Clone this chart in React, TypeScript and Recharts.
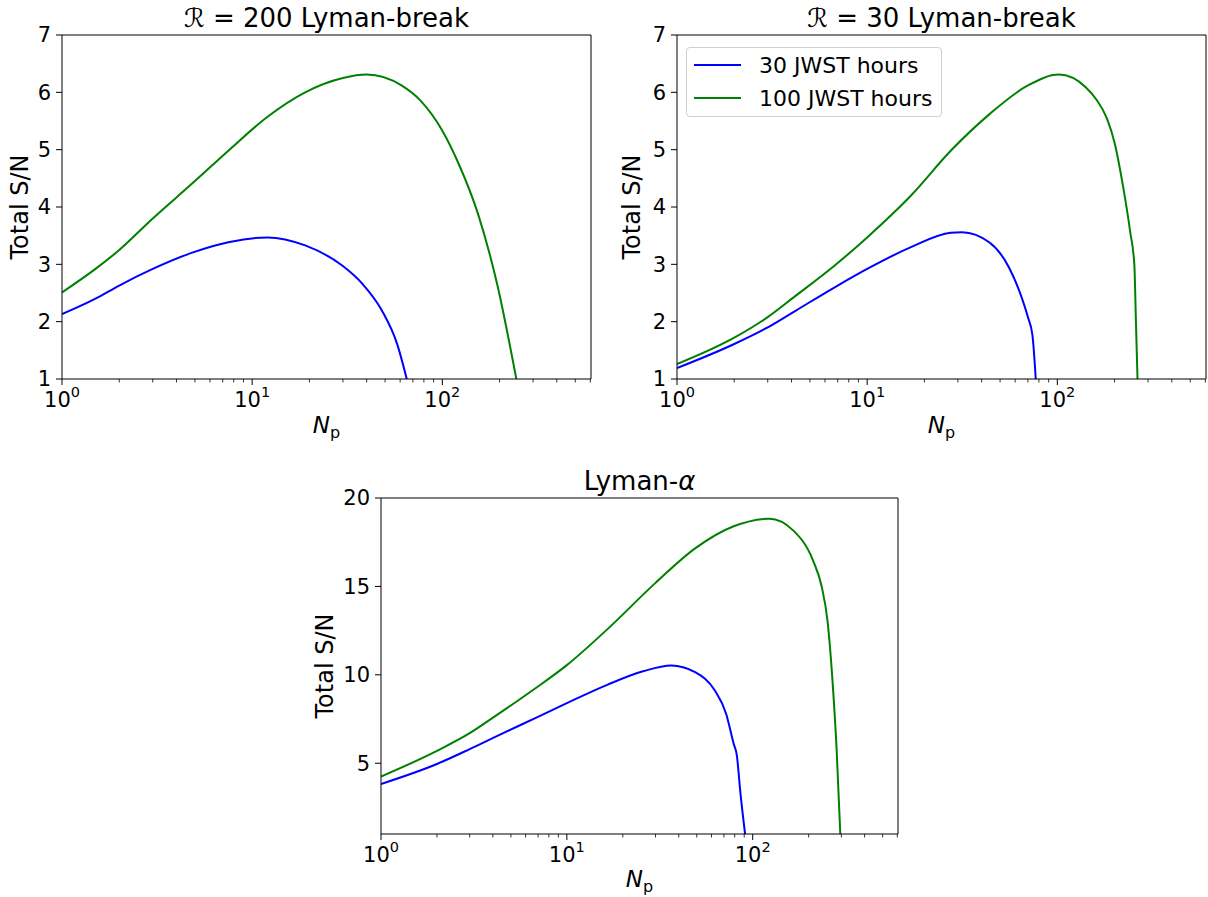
import type { ReactElement } from 'react';
import { Line, LineChart, XAxis, YAxis } from 'recharts';

const FONT = '"DejaVu Sans", Verdana, sans-serif';
const BLUE = '#0000ff';
const GREEN = '#008000';

const X_MAX = 605;
const X_TICKS = [1, 2, 3, 4, 5, 6, 7, 8, 9, 10, 20, 30, 40, 50, 60, 70, 80, 90, 100, 200, 300, 400, 500, 600];
const BREAK_Y_TICKS = [1, 2, 3, 4, 5, 6, 7];
const ALPHA_Y_TICKS = [5, 10, 15, 20];

const SERIES_NAMES = ['30 JWST hours', '100 JWST hours'];

// [N_p, total S/N]
const r200Hours30: [number, number][] = [
  [1, 2.13], [1.5, 2.4], [2, 2.63], [3, 2.92], [4.8, 3.2], [7.6, 3.39], [12, 3.47],
  [19, 3.33], [30, 2.97], [38, 2.66], [48, 2.2], [58, 1.6], [65, 1.0],
];
const r200Hours100: [number, number][] = [
  [1, 2.51], [1.5, 2.92], [2, 3.25], [3, 3.8], [4.8, 4.4], [7.6, 5.0], [12, 5.57],
  [19, 6.0], [30, 6.25], [40, 6.31], [61, 6.12], [77, 5.85], [100, 5.33], [122, 4.75],
  [154, 3.88], [194, 2.66], [245, 1.0],
];
const r30Hours30: [number, number][] = [
  [1, 1.19], [2, 1.61], [3, 1.9], [4.2, 2.19], [6.75, 2.6], [10, 2.92], [17, 3.3],
  [27.5, 3.55], [31.6, 3.56], [44, 3.38], [55.6, 2.95], [64, 2.48], [70, 2.08],
  [74, 1.76], [77, 1.0],
];
const r30Hours100: [number, number][] = [
  [1, 1.26], [2, 1.72], [3, 2.08], [4.2, 2.45], [6.75, 2.98], [10, 3.47], [17, 4.2],
  [27.5, 4.98], [44, 5.62], [70, 6.12], [102, 6.31], [141, 6.09], [160, 5.88], [182, 5.55],
  [200, 5.12], [220, 4.42], [242, 3.55], [254, 3.0], [259, 2.0], [264, 1.0],
];
const alphaHours30: [number, number][] = [
  [1, 3.83], [2, 4.96], [3, 5.8], [4.23, 6.55], [6.9, 7.6], [10, 8.4], [16.6, 9.45],
  [25.7, 10.2], [36.4, 10.53], [49, 10.15], [62.6, 9.11], [72, 7.79], [79, 6.1],
  [82, 5.5], [86, 3.26], [91, 1.0],
];
const alphaHours100: [number, number][] = [
  [1, 4.25], [2, 5.7], [3, 6.7], [4.23, 7.75], [6.9, 9.3], [10, 10.55], [16.6, 12.6],
  [30, 15.2], [49, 17.15], [79, 18.4], [123, 18.83], [165, 18.17], [211, 16.47],
  [235, 15.0], [253, 13.0], [269, 9.6], [283, 5.72], [296, 1.0],
];

const toPoints = (pairs: [number, number][]) => pairs.map(([n, sn]) => ({ n, sn }));

// bottom axis tick: draws the tick mark itself (long at decades, short between) and a 10^n label
function LogTick(props: any): ReactElement {
  const { x, y, payload } = props;
  const exp = Math.log10(payload.value);
  const major = Math.abs(exp - Math.round(exp)) < 1e-9;
  return (
    <g>
      <line x1={x} x2={x} y1={y} y2={y + (major ? 6 : 3.5)} stroke="#000" strokeWidth={major ? 1 : 0.8} />
      {major && (
        <text x={x} y={y + 28} textAnchor="middle" fontSize={21} fontFamily={FONT} fill="#000">
          10
          <tspan dy={-10} fontSize={14.5}>
            {Math.round(exp)}
          </tspan>
        </text>
      )}
    </g>
  );
}

function LegendBox({ left, top }: { left: number; top: number }): ReactElement {
  return (
    <div
      style={{
        position: 'absolute',
        left,
        top,
        width: 256,
        height: 70,
        border: '1px solid #d0d0d0',
        borderRadius: 4,
        background: 'rgba(255,255,255,0.8)',
        fontFamily: FONT,
        fontSize: 22,
        color: '#000',
        boxSizing: 'border-box',
      }}
    >
      {SERIES_NAMES.map((name, i) => (
        <div
          key={name}
          style={{ position: 'absolute', left: 7, top: 4 + i * 33, height: 26, display: 'flex', alignItems: 'center' }}
        >
          <span style={{ display: 'inline-block', width: 47, height: 2, background: i === 0 ? BLUE : GREEN }} />
          <span style={{ marginLeft: 18, whiteSpace: 'nowrap' }}>{name}</span>
        </div>
      ))}
    </div>
  );
}

interface PanelProps {
  left: number;
  top: number;
  width: number;
  height: number;
  margin: { top: number; right: number; bottom: number; left: number };
  low: [number, number][];
  high: [number, number][];
  yDomain: [number, number];
  yTicks: number[];
}

// each axis takes 1px, so margins are the plot edges minus 1
function Panel({ left, top, width, height, margin, low, high, yDomain, yTicks }: PanelProps): ReactElement {
  const axisCommon = {
    dataKey: 'n',
    type: 'number' as const,
    scale: 'log' as const,
    domain: [1, X_MAX],
    allowDataOverflow: true,
    height: 1,
  };
  const yCommon = {
    type: 'number' as const,
    domain: yDomain,
    allowDataOverflow: true,
    width: 1,
  };
  return (
    <div style={{ position: 'absolute', left, top }}>
      <LineChart width={width} height={height} margin={margin}>
        <XAxis
          {...axisCommon}
          xAxisId="bottom"
          ticks={X_TICKS}
          interval={0}
          tick={<LogTick />}
          tickSize={0}
          tickMargin={0}
          tickLine={false}
          axisLine={{ stroke: '#000', strokeWidth: 1 }}
        />
        <XAxis
          {...axisCommon}
          xAxisId="top"
          orientation="top"
          tick={false}
          tickLine={false}
          axisLine={{ stroke: '#000', strokeWidth: 1 }}
        />
        <YAxis
          {...yCommon}
          yAxisId="left"
          ticks={yTicks}
          interval={0}
          tickSize={6}
          tickMargin={5}
          tick={{ fontSize: 21, fill: '#000', fontFamily: FONT }}
          axisLine={{ stroke: '#000', strokeWidth: 1 }}
          tickLine={{ stroke: '#000', strokeWidth: 1 }}
        />
        <YAxis
          {...yCommon}
          yAxisId="right"
          orientation="right"
          tick={false}
          tickLine={false}
          axisLine={{ stroke: '#000', strokeWidth: 1 }}
        />
        <Line
          data={toPoints(low)}
          xAxisId="bottom"
          yAxisId="left"
          dataKey="sn"
          name={SERIES_NAMES[0]}
          type="monotone"
          stroke={BLUE}
          strokeWidth={2}
          dot={false}
          activeDot={false}
          isAnimationActive={false}
        />
        <Line
          data={toPoints(high)}
          xAxisId="bottom"
          yAxisId="left"
          dataKey="sn"
          name={SERIES_NAMES[1]}
          type="monotone"
          stroke={GREEN}
          strokeWidth={2}
          dot={false}
          activeDot={false}
          isAnimationActive={false}
        />
      </LineChart>
    </div>
  );
}

function XLabel({ x, y }: { x: number; y: number }): ReactElement {
  return (
    <text x={x} y={y} textAnchor="middle" fontSize={23} fontFamily={FONT} fill="#000">
      <tspan fontStyle="italic">N</tspan>
      <tspan dy={5} fontSize={16}>
        p
      </tspan>
    </text>
  );
}

function YLabel({ x, y }: { x: number; y: number }): ReactElement {
  return (
    <text
      x={x}
      y={y}
      transform={`rotate(-90 ${x} ${y})`}
      textAnchor="middle"
      dominantBaseline="central"
      fontSize={24}
      fontFamily={FONT}
      fill="#000"
    >
      Total S/N
    </text>
  );
}

export default function App(): ReactElement {
  return (
    <div style={{ position: 'absolute', left: 0, top: 0, width: 1208, height: 897, background: '#fff' }}>
      <Panel
        left={0}
        top={0}
        width={600}
        height={440}
        margin={{ top: 34, right: 8, bottom: 60, left: 61 }}
        low={r200Hours30}
        high={r200Hours100}
        yDomain={[1, 7]}
        yTicks={BREAK_Y_TICKS}
      />
      <Panel
        left={604}
        top={0}
        width={604}
        height={440}
        margin={{ top: 34, right: 1, bottom: 60, left: 72 }}
        low={r30Hours30}
        high={r30Hours100}
        yDomain={[1, 7]}
        yTicks={BREAK_Y_TICKS}
      />
      <Panel
        left={300}
        top={450}
        width={620}
        height={447}
        margin={{ top: 47, right: 21, bottom: 62, left: 80 }}
        low={alphaHours30}
        high={alphaHours100}
        yDomain={[1, 20]}
        yTicks={ALPHA_Y_TICKS}
      />
      <LegendBox left={686} top={47} />
      <svg
        width={1208}
        height={897}
        style={{ position: 'absolute', left: 0, top: 0, pointerEvents: 'none' }}
      >
        <text x={326.5} y={27} textAnchor="middle" fontSize={26} fontFamily={FONT} fill="#000">
          ℛ = 200 Lyman-break
        </text>
        <text x={941.5} y={27} textAnchor="middle" fontSize={26} fontFamily={FONT} fill="#000">
          ℛ = 30 Lyman-break
        </text>
        <text x={639.5} y={490} textAnchor="middle" fontSize={26} fontFamily={FONT} fill="#000">
          Lyman-<tspan fontStyle="italic">α</tspan>
        </text>
        <XLabel x={326.5} y={433} />
        <XLabel x={941.5} y={433} />
        <XLabel x={639.5} y={887} />
        <YLabel x={20} y={207} />
        <YLabel x={632} y={207} />
        <YLabel x={325} y={666} />
      </svg>
    </div>
  );
}
